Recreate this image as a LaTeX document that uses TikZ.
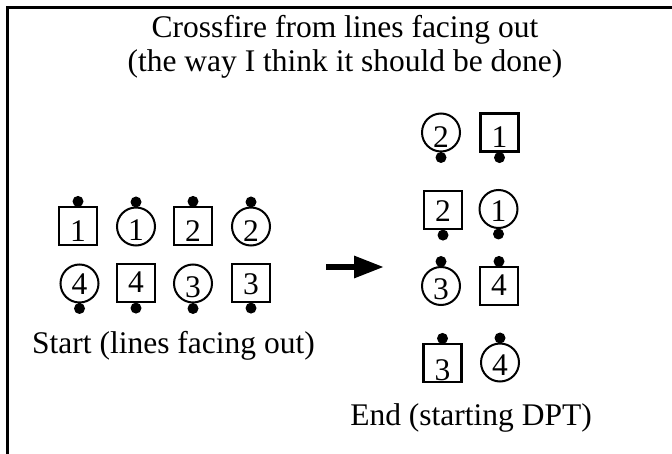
\documentclass[tikz,border=0pt]{standalone}
\usepackage{fontspec}
\setmainfont{Liberation Serif}
\usetikzlibrary{arrows.meta}
\tikzset{
  sq/.style={draw, line width=2.2pt, minimum size=38pt, inner sep=0pt},
  cir/.style={draw, circle, line width=2pt, minimum size=38pt, inner sep=0pt},
  num/.style={anchor=base, inner sep=0pt, font=\fontsize{31.5}{35}\selectfont},
  lbl/.style={anchor=base, inner sep=0pt, font=\fontsize{31.5}{35}\selectfont},
  pin/.style={fill=black},
  stem/.style={line width=2.5pt},
}
\newcommand{\dottop}[1]{\draw[stem] (#1.north) -- ++(0,-4); \fill[pin] ([yshift=4.5pt]#1.north) circle (5.5pt);}
\newcommand{\dotbot}[1]{\draw[stem] (#1.south) -- ++(0,4); \fill[pin] ([yshift=-5pt]#1.south) circle (5.5pt);}
\begin{document}
\begin{tikzpicture}[x=1pt,y=-1pt]
\useasboundingbox (0,0) rectangle (672,454);
% frame
\draw[line width=2.4pt] (7.5,454) -- (7.5,7.5) -- (672,7.5);
% title
\node[lbl] (t1) at (345,38) {Crossfire from lines facing out};
\node[lbl] (t2) at (345,72) {(the way I think it should be done)};
% start group row 1
\node[sq]  (a1) at (78,226) {};
\node[cir] (a2) at (136,226.5) {};
\node[sq]  (a3) at (193,226) {};
\node[cir] (a4) at (251,226.5) {};
% start group row 2
\node[cir] (b1) at (79.5,283.5) {};
\node[sq]  (b2) at (136,283) {};
\node[cir] (b3) at (193,283.5) {};
\node[sq]  (b4) at (251,283) {};
\node[num] at ([yshift=-16pt]a1.center) {1};
\node[num] at ([yshift=-14pt]a2.center) {1};
\node[num] at ([yshift=-16pt]a3.center) {2};
\node[num] at ([yshift=-15pt]a4.center) {2};
\node[num] at ([yshift=-11pt]b1.center) {4};
\node[num] at ([yshift=-10pt]b2.center) {4};
\node[num] at ([yshift=-14pt]b3.center) {3};
\node[num] at ([yshift=-12pt]b4.center) {3};
\dottop{a1}\dottop{a2}\dottop{a3}\dottop{a4}
\dotbot{b1}\dotbot{b2}\dotbot{b3}\dotbot{b4}
\node[lbl] (start) at (173.5,353) {Start (lines facing out)};
% arrow
\coordinate (p1) at (326,267);
\coordinate (p2) at (384,267);
\draw[line width=6pt, -{Triangle[length=30pt,width=21pt]}] (p1) -- (p2);
% end group
\node[cir] (c1) at (441,132.5) {};
\node[sq]  (c2) at (499.5,132.5) {};
\node[sq]  (d1) at (443,210) {};
\node[cir] (d2) at (498.5,209) {};
\node[cir] (e1) at (441,286) {};
\node[sq]  (e2) at (499,286) {};
\node[sq]  (f1) at (442.5,363) {};
\node[cir] (f2) at (500,362.5) {};
\node[num] at ([yshift=-15pt]c1.center) {2};
\node[num] at ([yshift=-15pt]c2.center) {1};
\node[num] at ([yshift=-12pt]d1.center) {2};
\node[num] at ([yshift=-13pt]d2.center) {1};
\node[num] at ([yshift=-14pt]e1.center) {3};
\node[num] at ([yshift=-10pt]e2.center) {4};
\node[num] at ([yshift=-17pt]f1.center) {3};
\node[num] at ([yshift=-13pt]f2.center) {4};
\dotbot{c1}\dotbot{c2}\dotbot{d1}\dotbot{d2}
\dottop{e1}\dottop{e2}\dottop{f1}\dottop{f2}
\node[lbl] (end) at (471,425) {End (starting DPT)};
\end{tikzpicture}
\end{document}
